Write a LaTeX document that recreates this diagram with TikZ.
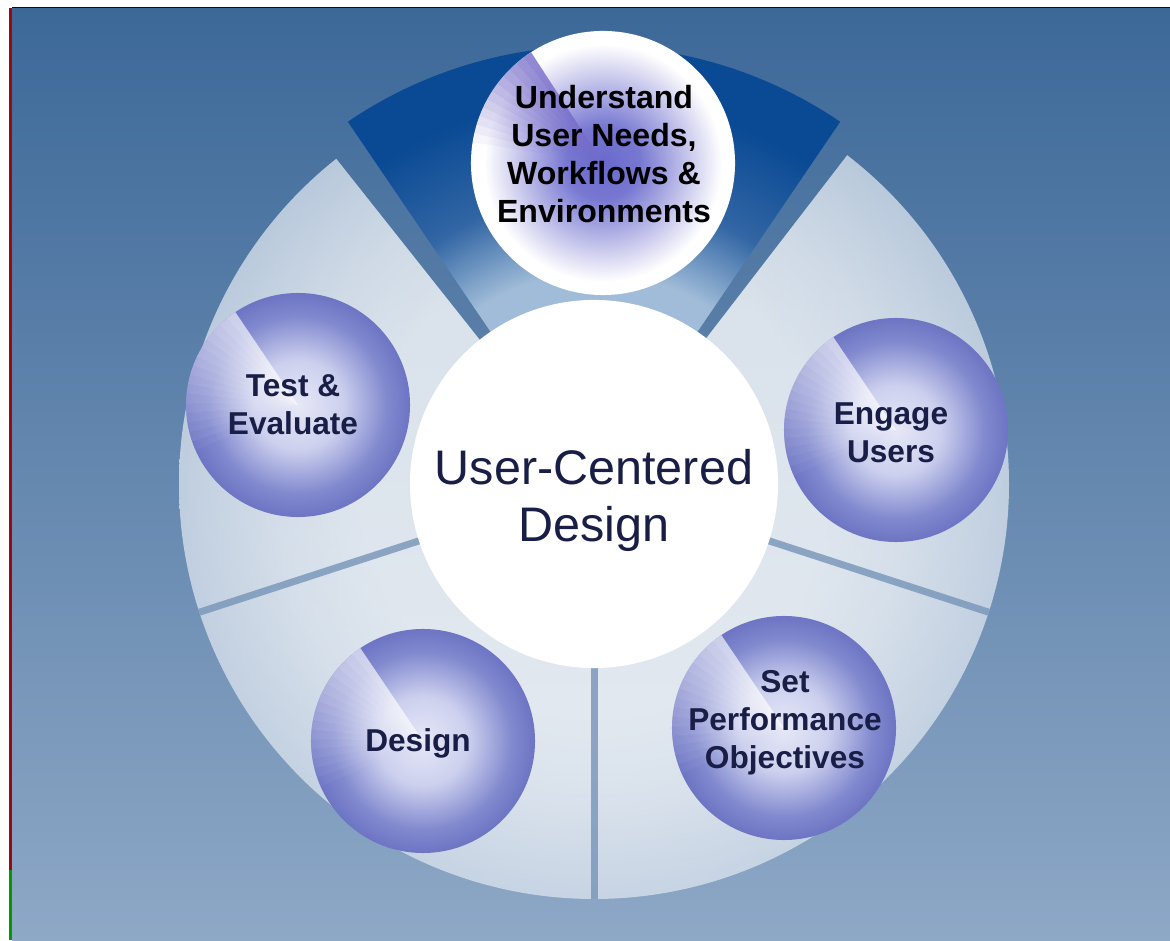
\documentclass[tikz,border=0pt]{standalone}
\usepackage{fontspec}
\setmainfont{Liberation Sans}
\usetikzlibrary{calc}

\definecolor{bgtop}{RGB}{60,104,152}
\definecolor{bgbot}{RGB}{142,168,198}
\definecolor{segout}{RGB}{172,192,216}
\definecolor{topin}{RGB}{160,188,216}
\definecolor{topmid}{RGB}{50,102,164}
\definecolor{topseg}{RGB}{10,74,148}
\definecolor{gapblue}{RGB}{118,148,184}
\definecolor{ballcore}{RGB}{230,232,246}
\definecolor{balllite}{RGB}{204,208,238}
\definecolor{ballmid}{RGB}{128,136,206}
\definecolor{balldeep}{RGB}{94,102,188}
\definecolor{ballrim}{RGB}{80,90,178}
\definecolor{capblue}{RGB}{105,105,205}
\definecolor{caprim}{RGB}{222,226,240}
\definecolor{capwedge}{RGB}{118,108,200}
\definecolor{inktext}{RGB}{24,30,70}
\definecolor{framered}{RGB}{150,10,20}

\pgfdeclareradialshading{segshade}{\pgfpoint{0bp}{0bp}}{color(0bp)=(white); color(14bp)=(white); color(19bp)=(white!85!segout); color(35bp)=(segout); color(50bp)=(segout)}
\pgfdeclareradialshading{topshade}{\pgfpoint{0bp}{0bp}}{color(0bp)=(topin); color(12bp)=(topin); color(16.5bp)=(topmid); color(22bp)=(topseg); color(50bp)=(topseg)}
\pgfdeclareradialshading{ballshade}{\pgfpoint{0bp}{0bp}}{color(0bp)=(ballcore); color(10bp)=(balllite); color(20bp)=(ballmid); color(29bp)=(balldeep); color(35bp)=(ballrim); color(50bp)=(ballrim)}
\pgfdeclareradialshading{capshade}{\pgfpoint{0bp}{0bp}}{color(0bp)=(capblue); color(7bp)=(capblue!90!white); color(22.5bp)=(white); color(32bp)=(white); color(35bp)=(caprim); color(50bp)=(caprim)}

\def\ringseg[#1](#2)(#3:#4:#5){\begin{scope}\clip (#2) -- ++(#3:#5) arc (#3:#4:#5) -- cycle; \shade[#1] (#2) circle (#5);\end{scope}}

\tikzset{
  gapline/.style={gapblue, opacity=.8, line width=0.175cm},
  ball/.style={circle, inner sep=0pt, minimum size=5.6cm, shade, shading=ballshade,
    path picture={\foreach \k [evaluate=\k as \op using {0.65*(1-\k/16)}] in {0,...,15}
      \fill[white, fill opacity=\op] (path picture bounding box.center) -- ++({124+5*\k}:3cm) arc ({124+5*\k}:{129+5*\k}:3cm) -- cycle;}},
  capball/.style={circle, inner sep=0pt, minimum size=6.6cm, shade, shading=capshade,
    path picture={\foreach \k [evaluate=\k as \op using {0.8*(1-\k/12)}] in {0,...,11}
      \fill[capwedge, fill opacity=\op] (path picture bounding box.center) -- ++({123+4*\k}:3.5cm) arc ({123+4*\k}:{127+4*\k}:3.5cm) -- cycle;}},
  hub/.style={circle, inner sep=0pt, minimum size=9.2cm, fill=white},
  balltext/.style={text=inktext, align=center, font=\fontsize{22.5}{27}\selectfont\bfseries},
  captext/.style={text=black, align=center, font=\fontsize{22.8}{27}\selectfont\bfseries},
  hubtext/.style={text=inktext, align=center, font=\fontsize{34.5}{40.5}\selectfont}
}

\begin{document}
\begin{tikzpicture}[x=0.025cm, y=0.025cm]
				\useasboundingbox (0,0) rectangle (1170,940);
				\fill[white] (0,0) rectangle (1170,940);
				\shade[top color=bgtop, bottom color=bgbot] (12,0) rectangle (1170,932);
				\draw[black!80!red, line width=0.04cm] (12,932.5) -- (1170,932.5);
				\fill[framered] (9,70) rectangle (12,932);
				\fill[green!60!black] (9,0) rectangle (12,70);
				
				\coordinate (C) at (594,456);
				
				\ringseg[shading=segshade, opacity=.78](C)(128.4:198:415);
				\ringseg[shading=segshade, opacity=.78](C)(198:270:415);
				\ringseg[shading=segshade, opacity=.78](C)(270:342:415);
				\ringseg[shading=segshade, opacity=.78](C)(342:412.4:415);
				\ringseg[shading=topshade](C)(55.8:124.2:438);
				
				\draw[gapline] (C) -- ++(198:415);
				\draw[gapline] (C) -- ++(270:415);
				\draw[gapline] (C) -- ++(342:415);
				
				\node[hub] (ucd) at (C) {};
				\node[hubtext] (ucdlabel) at (594,440) {User-Centered\\Design};
				
				\node[capball] (needs) at (603,777) {};
				\node[captext] (needslabel) at (604,786) {Understand\\User Needs,\\Workflows \&\\Environments};
				
				\node[ball] (engage) at (896,510) {};
				\node[balltext] (engagelabel) at (891,507) {Engage\\Users};
				
				\node[ball] (perf) at (784,212) {};
				\node[balltext] (perflabel) at (785,217) {Set\\Performance\\Objectives};
				
				\node[ball] (design) at (423,199) {};
				\node[balltext] (designlabel) at (418,197) {Design};
				
				\node[ball] (test) at (298,535) {};
				\node[balltext] (testlabel) at (293,535) {Test \&\\Evaluate};
\end{tikzpicture}
\end{document}
